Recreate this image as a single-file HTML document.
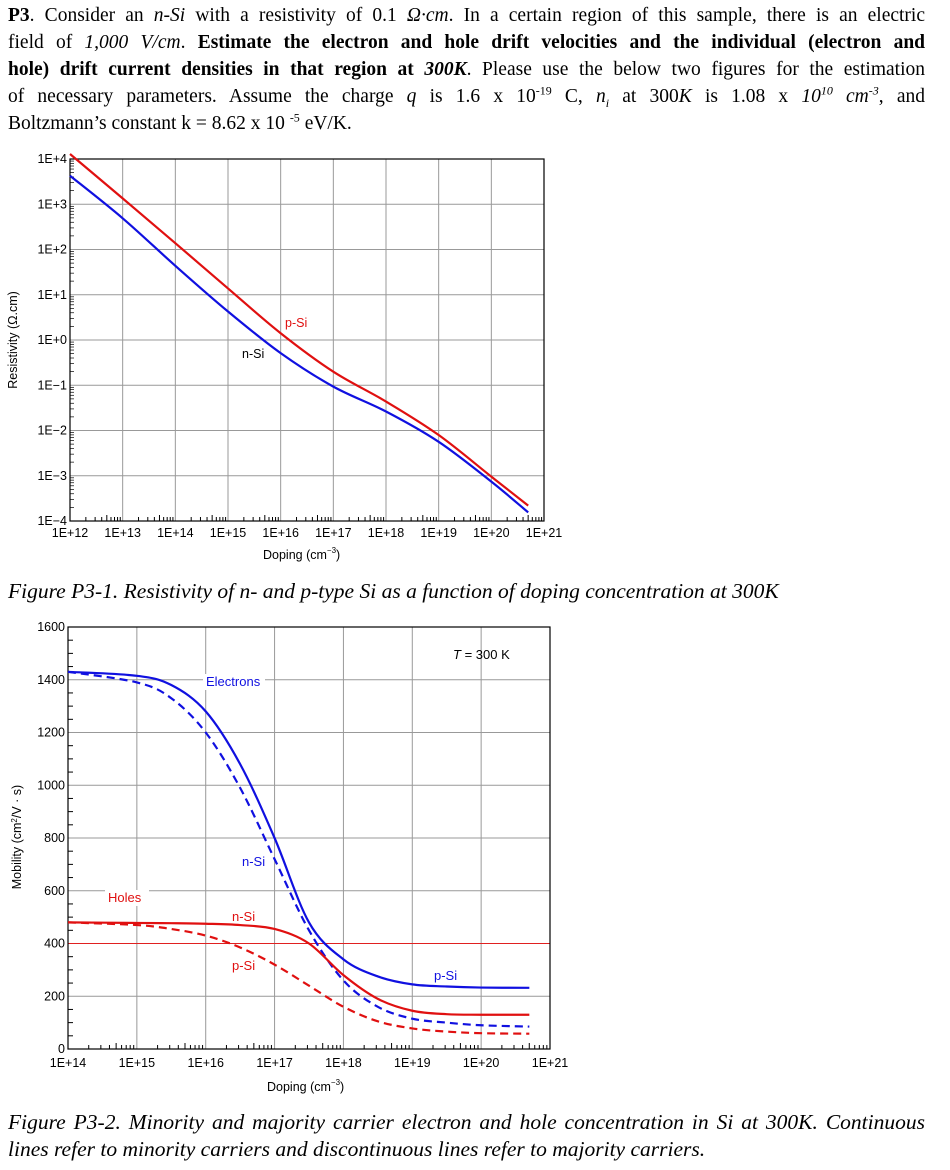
<!DOCTYPE html>
<html><head><meta charset="utf-8"><style>
body{margin:0;background:#fff;width:950px;height:1170px;position:relative;overflow:hidden;font-family:"Liberation Serif",serif;}
.ln{position:absolute;left:8px;width:917px;font-size:19.5px;line-height:22px;white-space:nowrap;text-align:justify;text-align-last:justify;color:#000}
sup,sub{line-height:0;font-size:12px}
.cap{position:absolute;left:8px;font-size:21.5px;font-style:italic;white-space:nowrap}
svg{position:absolute;left:0;top:0}
svg text{font-family:"Liberation Sans",sans-serif;}
</style></head><body>
<div class="ln" style="top:5px"><b>P3</b>. Consider an <i>n-Si</i> with a resistivity of 0.1 <i>Ω·cm</i>. In a certain region of this sample, there is an electric</div>
<div class="ln" style="top:32px">field of <i>1,000 V/cm</i>. <b>Estimate the electron and hole drift velocities and the individual (electron and</b></div>
<div class="ln" style="top:59px"><b>hole) drift current densities in that region at <i>300K</i></b>. Please use the below two figures for the estimation</div>
<div class="ln" style="top:86px">of necessary parameters. Assume the charge <i>q</i> is 1.6 x 10<sup>-19</sup> C, <i>n<sub>i</sub></i> at 300<i>K</i> is 1.08 x <i>10<sup>10</sup> cm<sup>-3</sup></i>, and</div>
<div class="ln" style="top:113px;text-align-last:left;width:auto">Boltzmann’s constant k = 8.62 x 10 <sup>-5</sup> eV/K.</div>
<div class="cap" style="top:579px">Figure P3-1. Resistivity of n- and p-type Si as a function of doping concentration at 300K</div>
<div class="cap" style="top:1110px;width:917px;text-align:justify;text-align-last:justify">Figure P3-2. Minority and majority carrier electron and hole concentration in Si at 300K. Continuous</div>
<div class="cap" style="top:1137px">lines refer to minority carriers and discontinuous lines refer to majority carriers.</div>
<svg id="s" width="950" height="1170"></svg>
<script>
// Chart 1 data (log10 doping, log10 resistivity)
const c1X=[12,13,14,15,16,17,18,19,20,20.7];
const c1P=[4.11,3.13,2.14,1.14,0.15,-0.70,-1.36,-2.10,-3.02,-3.66];
const c1N=[3.63,2.69,1.64,0.63,-0.29,-1.03,-1.58,-2.25,-3.13,-3.81];
const c1YTicks=["1E+4","1E+3","1E+2","1E+1","1E+0","1E−1","1E−2","1E−3","1E−4"];
const c1XTicks=["1E+12","1E+13","1E+14","1E+15","1E+16","1E+17","1E+18","1E+19","1E+20","1E+21"];
// Chart 2 data (log10 doping, mobility)
const c2X=[14,15,15.5,16,16.5,17,17.5,18,18.5,19,19.5,20,20.7];
const c2ElecMin=[1430,1415,1380,1280,1080,800,480,340,275,245,237,233,232];
const c2ElecMaj=[1430,1390,1330,1200,990,720,450,260,160,115,100,90,85];
const c2HoleMin=[480,478,477,475,470,455,400,280,190,145,132,130,130];
const c2HoleMaj=[480,470,455,430,385,320,240,160,105,78,66,60,58];
const c2YTicks=[0,200,400,600,800,1000,1200,1400,1600];
const c2XTicks=["1E+14","1E+15","1E+16","1E+17","1E+18","1E+19","1E+20","1E+21"];

const s=document.getElementById('s');const NS='http://www.w3.org/2000/svg';
function el(t,a,txt){const e=document.createElementNS(NS,t);for(const k in a)e.setAttribute(k,a[k]);if(txt!==undefined)e.textContent=txt;s.appendChild(e);return e;}
function path(xs,ys,fx,fy){let pts=xs.map((x,i)=>[fx(x),fy(ys[i])]);let d='M'+pts[0][0]+','+pts[0][1];
for(let i=0;i<pts.length-1;i++){const p0=pts[i-1]||pts[i],p1=pts[i],p2=pts[i+1],p3=pts[i+2]||p2;
d+=` C${p1[0]+(p2[0]-p0[0])/6},${p1[1]+(p2[1]-p0[1])/6} ${p2[0]-(p3[0]-p1[0])/6},${p2[1]-(p3[1]-p1[1])/6} ${p2[0]},${p2[1]}`;}return d;}

// ---- Chart 1
const L1=70,R1=544,T1=159,B1=521;
const x1=v=>L1+(v-12)/9*(R1-L1), y1=v=>T1+(4-v)/8*(B1-T1);
for(let i=0;i<=9;i++){const e=el('line',{x1:x1(12+i),x2:x1(12+i),y1:T1,y2:B1,stroke:'#999','stroke-width':1});}
for(let i=0;i<=8;i++){const e=el('line',{x1:L1,x2:R1,y1:y1(4-i),y2:y1(4-i),stroke:'#999','stroke-width':1});}
for(let d=12;d<21;d++)for(let m=2;m<10;m++){const xx=x1(d+Math.log10(m));el('line',{x1:xx,x2:xx,y1:B1,y2:B1-(m==5?6:4),stroke:'#000'});}
for(let d=-4;d<4;d++)for(let m=2;m<10;m++){const yy=y1(d+Math.log10(m));el('line',{x1:L1,x2:L1+4,y1:yy,y2:yy,stroke:'#000','stroke-width':0.7});}
el('rect',{x:L1,y:T1,width:R1-L1,height:B1-T1,fill:'none',stroke:'#000','stroke-width':1.2});
c1YTicks.forEach((t,i)=>{const e=el('text',{x:L1-3,y:y1(4-i)+4,'font-size':12.5,'text-anchor':'end'},t);});
c1XTicks.forEach((t,i)=>{const e=el('text',{x:x1(12+i),y:B1+16,'font-size':12.5,'text-anchor':'middle'},t);});
let e;
e=el('path',{d:path(c1X,c1P,x1,y1),fill:'none',stroke:'#e01010','stroke-width':2.2});
e=el('path',{d:path(c1X,c1N,x1,y1),fill:'none',stroke:'#1010e0','stroke-width':2.2});
e=el('text',{x:285,y:327,'font-size':12.5,fill:'#e01010'},'p-Si');
e=el('text',{x:242,y:358,'font-size':12.5},'n-Si');
e=el('text',{x:263,y:559,'font-size':12.5},'');e.innerHTML='Doping (cm<tspan font-size="8" dy="-6">−3</tspan><tspan dy="6">)</tspan>';
e=el('text',{x:0,y:0,'font-size':12.5,'text-anchor':'middle',transform:'translate(17,340) rotate(-90)'},'Resistivity (Ω.cm)');

// ---- Chart 2
const L2=68,R2=550,T2=627,B2=1049;
const x2=v=>L2+(v-14)/7*(R2-L2), y2=v=>B2-v/1600*(B2-T2);
for(let i=0;i<=7;i++){e=el('line',{x1:x2(14+i),x2:x2(14+i),y1:T2,y2:B2,stroke:'#999'});}
c2YTicks.forEach(v=>{if(v===400)return;e=el('line',{x1:L2,x2:R2,y1:y2(v),y2:y2(v),stroke:'#999'});});
for(let d=14;d<21;d++)for(let m=2;m<10;m++){const xx=x2(d+Math.log10(m));el('line',{x1:xx,x2:xx,y1:B2,y2:B2-(m==5?6:4),stroke:'#000'});}
for(let v=50;v<1600;v+=50){if(v%200)el('line',{x1:L2,x2:L2+5,y1:y2(v),y2:y2(v),stroke:'#000'});}
e=el('line',{x1:L2,x2:R2,y1:y2(400),y2:y2(400),stroke:'#e02020','stroke-width':1});
el('rect',{x:L2,y:T2,width:R2-L2,height:B2-T2,fill:'none',stroke:'#000','stroke-width':1.2});
c2YTicks.forEach(v=>{e=el('text',{x:L2-3,y:y2(v)+4,'font-size':12.5,'text-anchor':'end'},String(v));});
c2XTicks.forEach((t,i)=>{e=el('text',{x:x2(14+i),y:B2+18,'font-size':12.5,'text-anchor':'middle'},t);});
e=el('path',{d:path(c2X,c2ElecMin,x2,y2),fill:'none',stroke:'#1010e0','stroke-width':2.2});
e=el('path',{d:path(c2X,c2ElecMaj,x2,y2),fill:'none',stroke:'#1010e0','stroke-width':2.2,'stroke-dasharray':'8,5'});
e=el('path',{d:path(c2X,c2HoleMin,x2,y2),fill:'none',stroke:'#e01010','stroke-width':2.2});
e=el('path',{d:path(c2X,c2HoleMaj,x2,y2),fill:'none',stroke:'#e01010','stroke-width':2.2,'stroke-dasharray':'8,5'});
function lab(x,y,t,c,n,bg){if(bg)el('rect',{x:x-3,y:y-12,width:bg,height:16,fill:'#fff'});const q=el('text',{x:x,y:y,'font-size':13,fill:c},t);}
lab(206,686,'Electrons','#1010e0','electrons-label',62);
lab(108,902,'Holes','#e01010','holes-label',44);
lab(242,866,'n-Si','#1010e0','electron-n-si-label');
lab(232,921,'n-Si','#e01010','hole-n-si-label');
lab(232,970,'p-Si','#e01010','hole-p-si-label');
lab(434,980,'p-Si','#1010e0','electron-p-si-label');
e=el('text',{x:453,y:659,'font-size':13},'');e.innerHTML='<tspan font-style="italic">T</tspan> = 300 K';
e=el('text',{x:267,y:1091,'font-size':12.5},'');e.innerHTML='Doping (cm<tspan font-size="8" dy="-6">−3</tspan><tspan dy="6">)</tspan>';
e=el('text',{x:0,y:0,'font-size':12.5,'text-anchor':'middle',transform:'translate(21,837) rotate(-90)'},'');e.innerHTML='Mobility (cm<tspan font-size="8" dy="-4">2</tspan><tspan dy="4">/V · s)</tspan>';
</script>
</body></html>
